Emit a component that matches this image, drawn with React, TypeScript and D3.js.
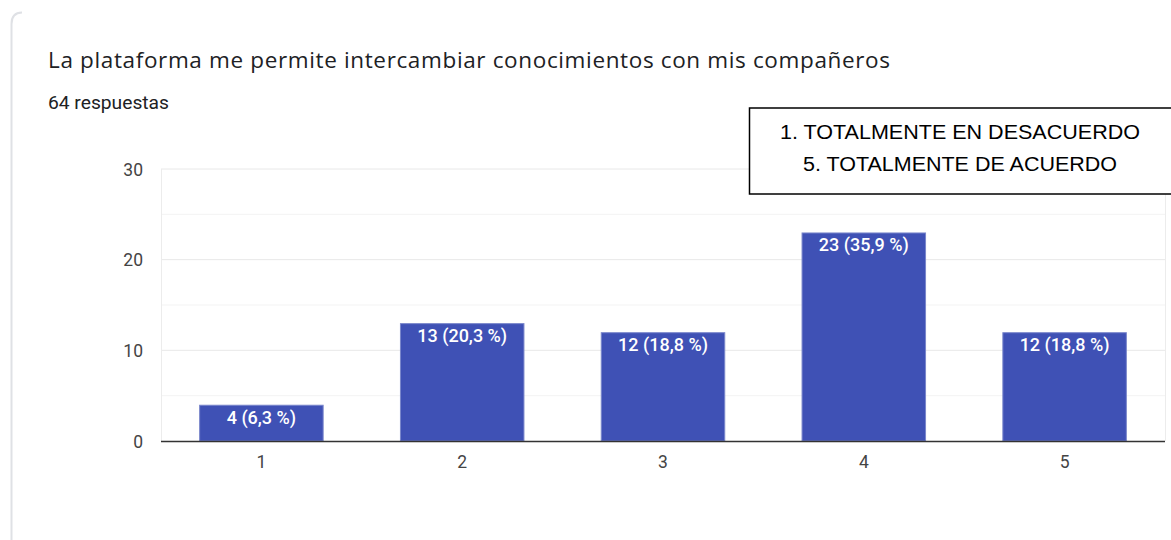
import React from "react";
import * as d3 from "d3";

const categories = ["1", "2", "3", "4", "5"];
const counts = [4, 13, 12, 23, 12];
const labels = ["4 (6,3 %)", "13 (20,3 %)", "12 (18,8 %)", "23 (35,9 %)", "12 (18,8 %)"];
const yTicks = [0, 10, 20, 30];
const yMinor = [5, 15, 25];
const title = "La plataforma me permite intercambiar conocimientos con mis compañeros";
const subtitle = "64 respuestas";
const legendLines = ["1. TOTALMENTE EN DESACUERDO", "5. TOTALMENTE DE ACUERDO"];

export default function App() {
  const W = 1171, H = 540;
  const left = 161, right = 1165, top = 169, bottom = 441;
  const x = d3.scaleBand<string>().domain(categories).range([left, right]).paddingInner(0.38).paddingOuter(0.19);
  const y = d3.scaleLinear().domain([0, 30]).range([bottom, top]);
  const legendW = [360, 314];
  return (
    <svg width={W} height={H} style={{ position: "absolute", left: 0, top: 0, background: "#fff" }}>
      <path d="M11.5,540 L11.5,24 Q11.5,12.5 22,12.5" fill="none" stroke="#dfe1e5" strokeWidth={2} />
      <text x={48} y={68} fontFamily="Open Sans, Roboto, sans-serif" fontSize={22.5} fill="#202124" textLength={842} lengthAdjust="spacing">{title}</text>
      <text x={48} y={109} fontFamily="Roboto, sans-serif" fontSize={17.5} fill="#202124" textLength={121} lengthAdjust="spacingAndGlyphs">{subtitle}</text>
      {yMinor.map((t) => (
        <line key={"m" + t} x1={left} x2={right} y1={y(t)} y2={y(t)} stroke="#f3f3f3" strokeWidth={1} />
      ))}
      {yTicks.filter((t) => t > 0).map((t) => (
        <line key={"g" + t} x1={left} x2={right} y1={y(t)} y2={y(t)} stroke="#e8e8e8" strokeWidth={1} />
      ))}
      <line x1={left + 0.5} x2={left + 0.5} y1={top} y2={bottom} stroke="#ececec" />
      <line x1={right + 0.5} x2={right + 0.5} y1={top} y2={bottom} stroke="#ececec" />
      {yTicks.map((t) => (
        <text key={"t" + t} x={143} y={y(t) + 6.5} textAnchor="end" fontFamily="Roboto, sans-serif" fontSize={17.5} fill="#444">{t}</text>
      ))}
      {categories.map((c, i) => {
        const bx = x(c)!;
        const by = y(counts[i]);
        return (
          <g key={c}>
            <rect x={bx + 0.5} y={by + 0.5} width={x.bandwidth() - 1} height={bottom - by - 0.5} fill="#3f51b5" stroke="#7986cb" strokeWidth={1} />
            <text x={bx + x.bandwidth() / 2} y={by + 19} textAnchor="middle" fontFamily="Roboto, sans-serif" fontWeight={500} fontSize={18} fill="#fff">{labels[i]}</text>
            <text x={bx + x.bandwidth() / 2} y={468} textAnchor="middle" fontFamily="Roboto, sans-serif" fontSize={17.5} fill="#444">{c}</text>
          </g>
        );
      })}
      <line x1={left} x2={right} y1={bottom + 0.5} y2={bottom + 0.5} stroke="#333" strokeWidth={1.5} />
      <rect x={749.5} y={108} width={430} height={86} fill="#fff" stroke="#000" strokeWidth={1.5} />
      {legendLines.map((l, i) => (
        <text key={l} x={960} y={139 + i * 32} textAnchor="middle" fontFamily="Liberation Sans, Arial, sans-serif" fontSize={20} fill="#000" textLength={legendW[i]} lengthAdjust="spacingAndGlyphs">{l}</text>
      ))}
    </svg>
  );
}
